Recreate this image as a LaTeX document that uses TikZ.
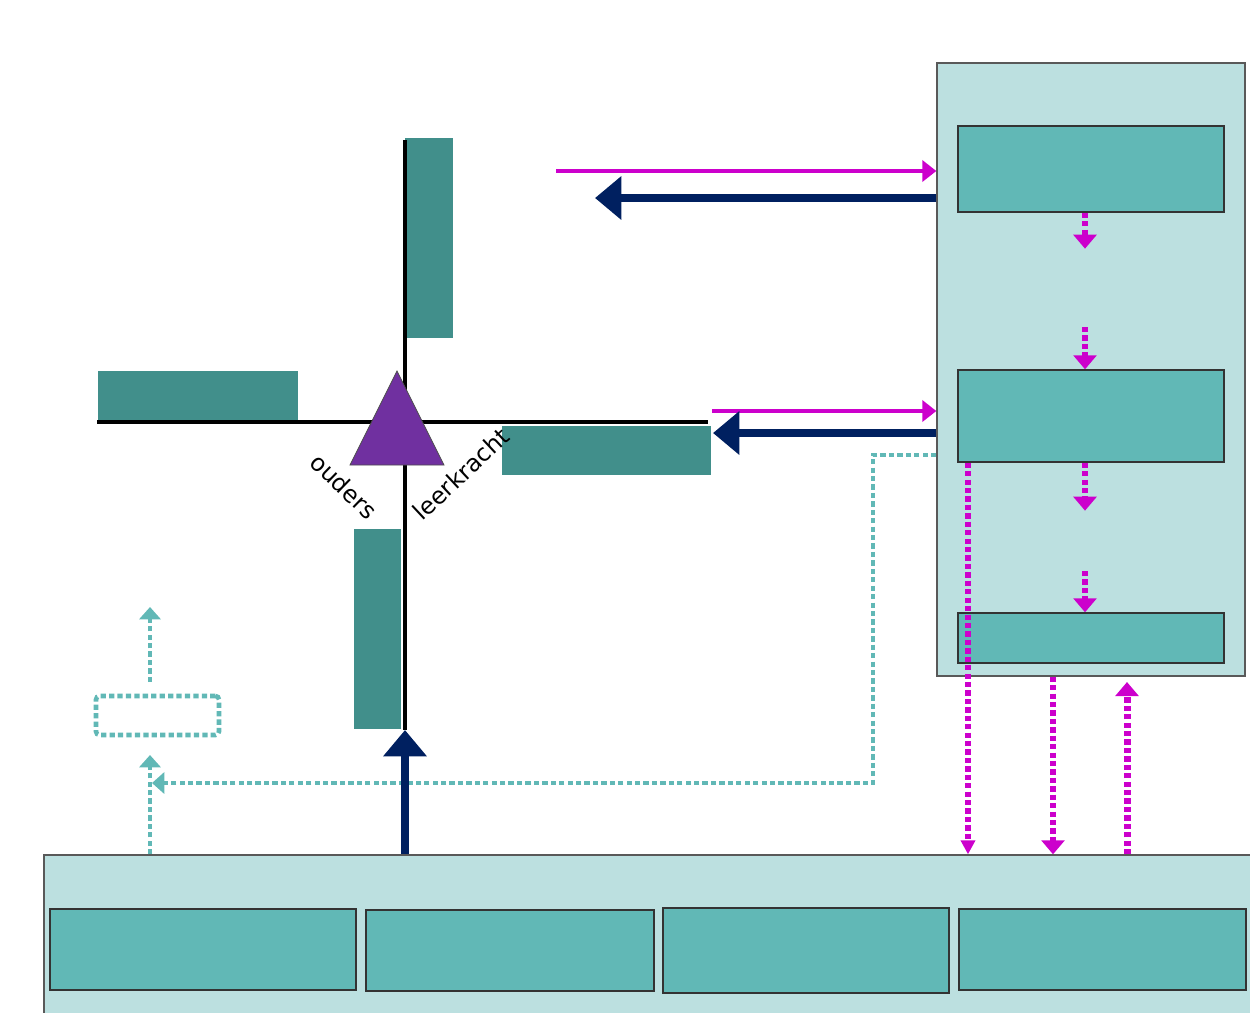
\documentclass[tikz,border=0pt]{standalone}
\usepackage{fontspec}
\setmainfont{DejaVu Sans}
\usetikzlibrary{arrows.meta}
\usetikzlibrary{shapes,positioning}
\tikzset{>=stealth}
\definecolor{panelColor}{HTML}{BCE0E0}
\definecolor{boxColor}{HTML}{61B8B6}
\definecolor{barColor}{HTML}{418F8B}
\definecolor{navyColor}{HTML}{002060}
\definecolor{magColor}{HTML}{CC00CC}
\definecolor{triColor}{HTML}{7030A0}
\tikzset{
	panel/.style={draw=black!65,line width=0.8pt,fill=panelColor,inner sep=0pt},
	box/.style={draw=black!80,line width=0.8pt,fill=boxColor,inner sep=0pt},
	bar/.style={fill=barColor,inner sep=0pt},
	axis/.style={line width=2.3pt,black},
	navyarrow/.style={line width=4.5pt,navyColor,-{Triangle[length=15pt,width=24pt]}},
	magarrow/.style={line width=2.4pt,magColor,-{Triangle[length=8pt,width=12pt]}},
	magdot/.style={line width=3.2pt,magColor,dash pattern=on 3pt off 1.8pt,-{Triangle[length=8pt,width=13pt]}},
	tealdot/.style={line width=2.6pt,boxColor,dash pattern=on 3pt off 1.8pt},
	tealtip/.style={-{Triangle[length=7pt,width=12pt]}}
}
\begin{document}
\begin{tikzpicture}[x=0.02cm,y=-0.02cm]
				\useasboundingbox (0,0) rectangle (1250,1012);
				\node[panel,minimum width=6.16cm,minimum height=12.26cm] (right) at (1091,369.5) {};
				\node[box,minimum width=5.32cm,minimum height=1.72cm] (t1) at (1091,169) {};
				\node[box,minimum width=5.32cm,minimum height=1.84cm] (t2) at (1091,416) {};
				\node[box,minimum width=5.32cm,minimum height=1cm] (t3) at (1091,638) {};
				\node[panel,minimum width=24.32cm,minimum height=3.5cm] (bottom) at (652,942.5) {};
				\node[box,minimum width=6.12cm,minimum height=1.62cm] (b1) at (203,949.5) {};
				\node[box,minimum width=5.76cm,minimum height=1.62cm] (b2) at (510,950.5) {};
				\node[box,minimum width=5.72cm,minimum height=1.7cm] (b3) at (806,950.5) {};
				\node[box,minimum width=5.74cm,minimum height=1.62cm] (b4) at (1102.5,949.5) {};
				\node[bar,minimum width=0.96cm,minimum height=4cm] (up) at (429,238) {};
				\node[bar,minimum width=4cm,minimum height=1cm] (left) at (198,396) {};
				\node[bar,minimum width=4.18cm,minimum height=0.98cm] (mid) at (606.5,450.5) {};
				\node[bar,minimum width=0.94cm,minimum height=4cm] (down) at (377.5,629) {};
				\node[tealdot,draw,rounded corners=2pt,minimum width=2.46cm,minimum height=0.78cm,inner sep=0pt] (dotbox) at (157.5,715.5) {};
				\coordinate (T) at (405,140);
				\coordinate (V) at (405,730);
				\coordinate (L) at (97,422);
				\coordinate (R) at (708,422);
				\coordinate (A) at (397,371);
				\coordinate (B) at (350,465);
				\coordinate (C) at (444,465);
				\coordinate (m1) at (556,171);
				\coordinate (n1) at (595,198);
				\coordinate (m2) at (712,411);
				\coordinate (n2) at (713,433);
				\coordinate (f1) at (873,455);
				\coordinate (f2) at (873,783);
				\coordinate (f3) at (152,783);
				\coordinate (u1) at (150,755);
				\coordinate (u2) at (150,607);
				\coordinate (k1) at (1127,682);
				\draw[tealdot,tealtip] (right.west |- f1) -- (f1) -- (f2) -- (f3);
				\draw[tealdot,tealtip] (bottom.north -| u1) -- (u1);
				\draw[tealdot,tealtip] (150,682) -- (u2);
				\draw[axis] (T)--(V);
				\draw[axis] (L)--(R);
				\draw[navyarrow] (bottom.north -| V) -- (V);
				\draw[fill=triColor,draw=black!70,line width=0.4pt] (A)--(B)--(C)--cycle;
				\node[rotate=-44,font=\fontsize{13.5}{15}\selectfont] (ouders) at (344,486) {ouders};
				\node[rotate=43,font=\fontsize{13.5}{15}\selectfont] (leerkracht) at (461,474) {leerkracht};
				\draw[magarrow] (m1) -- (right.west |- m1);
				\draw[navyarrow] (right.west |- n1) -- (n1);
				\draw[magarrow] (m2) -- (right.west |- m2);
				\draw[navyarrow] (right.west |- n2) -- (n2);
				\draw[magdot] (t1.south -| 1085,0) -- ++(0,36);
				\draw[magdot] (1085,327) -- (t2.north -| 1085,0);
				\draw[magdot] (t2.south -| 1085,0) -- ++(0,48);
				\draw[magdot] (1085,571) -- (t3.north -| 1085,0);
				\draw[magdot,-{Triangle[length=8pt,width=8pt]}] (t2.south -| 968,0) -- (bottom.north -| 968,0);
				\draw[magdot] (right.south -| 1053,0) -- (bottom.north -| 1053,0);
				\draw[magdot,line width=4pt] (bottom.north -| k1) -- (k1);
\end{tikzpicture}
\end{document}
